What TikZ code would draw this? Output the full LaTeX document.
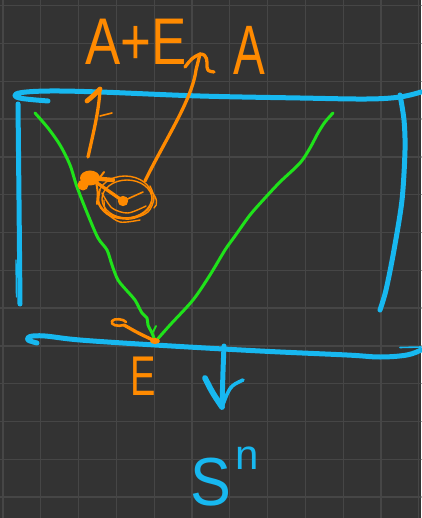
\documentclass[tikz,border=0pt]{standalone}
\usepackage{fontspec}
\setmainfont{Liberation Sans}
\definecolor{bg}{HTML}{333333}
\definecolor{gridc}{HTML}{464646}
\definecolor{skyb}{HTML}{17B8F0}
\definecolor{orng}{HTML}{FF8A00}
\definecolor{grn}{HTML}{1FE21A}
\begin{document}
\begin{tikzpicture}[x=1pt,y=-1pt,line cap=round,line join=round,
  bluestroke/.style={draw=skyb,line width=5pt},
  greenstroke/.style={draw=grn,line width=3pt},
  orangestroke/.style={draw=orng,line width=3.3pt},
  scribble/.style={draw=orng,line width=1.4pt},
  handlabel/.style={text=orng,inner sep=0pt}]
\fill[bg] (0,0) rectangle (421,518);
\useasboundingbox (0,0) rectangle (421,518);
\foreach \i in {0,...,11} \draw[gridc,line width=1.3pt] ({3+37.8*\i},0) -- ({3+37.8*\i},518);
\foreach \j in {0,...,13} \draw[gridc,line width=1.3pt] (0,{5.7+37.8*\j}) -- (421,{5.7+37.8*\j});

% labels
\node[handlabel,font=\fontsize{66}{66}\selectfont,xscale=0.8] (AE) at (136,42) {A+E};
\node[handlabel,font=\fontsize{70}{70}\selectfont,xscale=0.68] (A) at (249,50) {A};
\node[handlabel,font=\fontsize{56}{56}\selectfont,xscale=0.68] (E) at (143,376) {E};
\node[text=skyb,inner sep=0pt,font=\fontsize{68}{68}\selectfont,xscale=0.9] (S) at (211,482) {S};
\node[text=skyb,inner sep=0pt,font=\fontsize{42}{42}\selectfont] (n) at (247,458) {n};

% blue frame
\draw[bluestroke] plot[smooth,tension=0.6] coordinates {(48,101) (22,98.5) (15,95.5) (22,92.5) (50,91) (100,92) (200,96) (300,98) (367,99) (400,97) (421,92)};
\draw[bluestroke] plot[smooth] coordinates {(18,104) (19,200) (20,304)};
\draw[skyb,line width=1.4pt] (16,260) -- (16.5,297);
\draw[bluestroke] plot[smooth,tension=0.6] coordinates {(37,343) (28,340) (30,336.5) (45,336) (80,340) (155,345) (260,351) (347,355) (380,357) (407,355) (421,350)};
\draw[skyb,line width=1.6pt] (400,347.5) -- (421,347);
\draw[bluestroke] plot[smooth] coordinates {(400,95) (404,120) (405,150) (402,200) (394,250) (386,290) (380,310)};

% blue down arrow
\coordinate (dtop) at (224,346);
\coordinate (dtip) at (222,407);
\draw[bluestroke] (dtop) .. controls (223,370) .. (dtip);
\draw[bluestroke,line width=5.8pt] (205,378) .. controls (212,392) .. (dtip);
\draw[bluestroke,line width=3.6pt] (243,380) .. controls (230,386) .. (dtip);

% green V
\coordinate (vtx) at (155,341);
\draw[greenstroke] plot[smooth] coordinates {(35,113) (48,128) (60,145) (70,165) (77,187) (88,215) (98,238) (107,250) (112,265) (118,280) (128,292) (135,300) (142,313) (147,318) (148,325) (152,333) (155,341)};
\draw[greenstroke,line width=1.8pt] (153,332) -- (156,326);
\draw[greenstroke] plot[smooth] coordinates {(155,342) (170,325) (193,300) (210,275) (225,250) (235,236) (250,215) (265,198) (280,182) (300,163) (310,148) (318,133) (325,122) (333,113)};

% orange tick at vertex
\draw[scribble,line width=2.6pt] (124,325) .. controls (118,327) and (110,325) .. (112,321) .. controls (114,318) and (124,319) .. (126,322);
\draw[orangestroke] (124,325) .. controls (138,333) .. (vtx);
\fill[orng] (vtx) ellipse [x radius=5,y radius=3];

% orange ball
\coordinate (blob) at (90,178);
\coordinate (dot) at (123,201);
\draw[scribble] (125,197) ellipse [x radius=27,y radius=21];
\draw[scribble] (127,199) ellipse [x radius=25,y radius=19];
\draw[scribble] plot[smooth] coordinates {(100,190) (99,205) (110,216) (130,219) (148,212) (154,198) (150,186)};
\draw[scribble] plot[smooth] coordinates {(104,200) (106,212) (120,222) (140,220)};
\draw[scribble] plot[smooth] coordinates {(102,193) (112,208) (128,213) (146,206)};
\draw[scribble] (150,190) .. controls (158,198) and (158,205) .. (154,208);
\fill[orng] (blob) ellipse [x radius=10,y radius=7.5];
\fill[orng] (83,185) circle (5.5);
\fill[orng] (dot) circle (5.2);
\draw[orangestroke,line width=4.4pt] (blob) -- (113,180);
\draw[orangestroke] (blob) -- (dot);
\draw[scribble,line width=1.6pt] (dot) -- (143,192);
\draw[scribble,line width=2pt] (96,182) .. controls (98,192) .. (97,204);
\draw[scribble,line width=2pt] (98,180) -- (104,172);

% orange arrow to A+E
\coordinate (upA) at (100,89);
\draw[orangestroke] (88,157) .. controls (94,130) and (99,110) .. (upA);
\draw[orangestroke,line width=4.8pt] (87,101) .. controls (93,96) .. (upA);
\draw[orangestroke,line width=1.6pt] (100,116) -- (112,113);

% orange arrow to A
\coordinate (hook) at (200,54);
\draw[orangestroke] (145,181) .. controls (165,140) and (192,100) .. (196,70) -- (hook);
\draw[orangestroke] (185,67) .. controls (192,58) .. (hook) .. controls (208,54) and (207,62) .. (207,67) .. controls (208,71) .. (214,72);
\end{tikzpicture}
\end{document}
